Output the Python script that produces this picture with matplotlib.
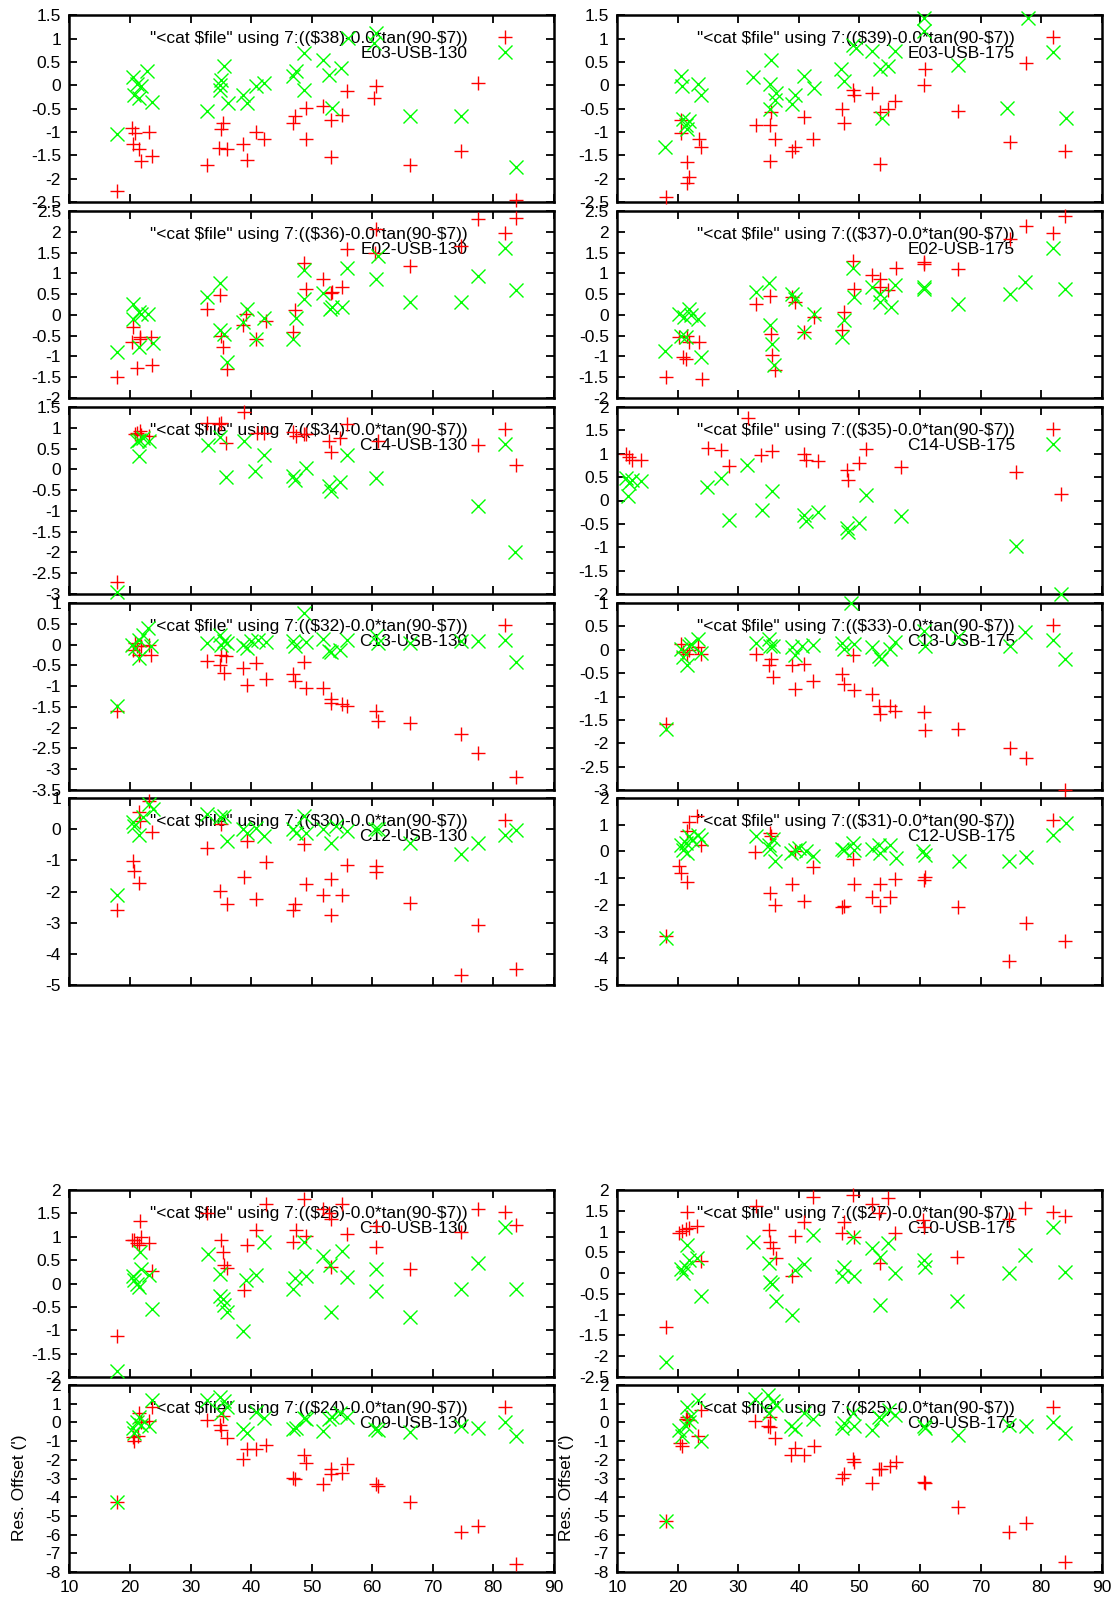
import matplotlib
matplotlib.use('Agg')
import matplotlib.pyplot as plt
from matplotlib.ticker import FuncFormatter
import numpy as np

plt.rcParams['font.family'] = ['Liberation Sans', 'DejaVu Sans']
plt.rcParams['axes.unicode_minus'] = False
plt.rcParams['text.parse_math'] = False

# ---------------- data: (elevation, residual offset) ----------------
E03_130_red = [(17.9,-2.26),(20.3,-0.91),(20.9,-1.02),(20.5,-1.26),(21.5,-1.36),(21.8,-1.63),(23.2,-0.99),(23.7,-1.52),(32.8,-1.70),(35.0,-0.93),(35.4,-0.81),(34.7,-1.34),(36.0,-1.36),(38.7,-1.26),(39.3,-1.61),(40.8,-1.0),(42.2,-1.15),(46.9,-0.81),(47.2,-0.66),(49.0,-0.49),(49.0,-1.15),(51.9,-0.45),(53.2,-0.74),(53.2,-1.54),(55.0,-0.63),(55.9,-0.13),(60.6,-0.01),(60.3,-0.27),(66.2,-1.70),(74.7,-1.41),(77.5,0.05),(83.8,-2.45)]
E03_130_grn = [(17.9,-1.04),(20.5,0.17),(21.2,0.03),(21.8,-0.02),(20.6,-0.2),(21.5,-0.27),(22.8,0.31),(23.7,-0.36),(32.8,-0.56),(34.8,0.01),(35.0,0.12),(35.6,0.41),(34.8,-0.09),(36.2,-0.38),(38.7,-0.2),(39.3,-0.38),(40.8,-0.02),(42.2,0.05),(46.9,0.19),(47.4,0.3),(48.8,0.69),(48.8,-0.09),(51.9,0.55),(52.9,0.23),(53.4,-0.49),(54.8,0.37),(56.0,1.01),(60.6,1.12),(60.3,0.9),(66.2,-0.66),(74.7,-0.66),(83.8,-1.74)]
E03_175_red = [(18.1,-2.4),(20.5,-0.74),(20.6,-1.02),(21.5,-1.65),(21.8,-1.97),(21.6,-2.09),(23.5,-1.16),(23.8,-1.33),(32.9,-0.84),(35.2,-0.84),(35.4,-0.57),(35.2,-1.63),(36.1,-1.15),(38.8,-1.4),(39.4,-1.33),(40.9,-0.68),(42.4,-1.15),(47.1,-0.5),(47.5,-0.81),(49.0,-0.11),(49.1,-0.21),(52.1,-0.16),(53.4,-0.57),(53.4,-1.69),(54.8,-0.5),(55.9,-0.34),(60.6,0.0),(60.8,0.36),(66.2,-0.56),(74.8,-1.22),(77.5,0.48),(84.0,-1.4)]
E03_175_grn = [(17.9,-1.33),(20.5,0.19),(20.7,-0.02),(20.9,-0.72),(21.3,-0.84),(21.6,-0.93),(21.9,-0.77),(23.4,0.03),(23.8,-0.2),(32.4,0.17),(35.4,0.55),(35.3,0.03),(35.2,-0.5),(36.1,-0.31),(36.2,-0.16),(38.8,-0.41),(39.4,-0.2),(40.9,0.19),(42.5,-0.06),(46.9,0.34),(47.4,0.09),(48.9,0.87),(49.4,0.8),(52.1,0.73),(53.4,0.34),(53.8,-0.7),(54.8,0.41),(55.9,0.73),(60.6,1.44),(60.6,1.16),(66.2,0.44),(74.4,-0.49),(77.8,1.44),(84.1,-0.7)]
E02_130_red = [(17.9,-1.5),(20.5,-0.28),(20.3,-0.66),(21.2,-1.29),(21.6,-0.58),(21.7,-0.54),(23.5,-0.54),(23.7,-1.2),(32.8,0.14),(34.9,0.48),(35.0,-0.52),(35.4,-0.77),(36.0,-1.3),(38.7,-0.25),(39.1,0.02),(40.8,-0.57),(42.4,-0.14),(46.9,-0.41),(47.2,0.11),(48.8,1.24),(49.0,0.62),(51.9,0.86),(53.2,0.52),(53.4,0.55),(55.0,0.66),(55.8,1.59),(60.6,2.06),(60.4,1.5),(66.2,1.18),(74.7,1.66),(77.5,2.3),(83.8,2.34)]
E02_130_grn = [(17.9,-0.9),(20.5,0.26),(20.5,-0.1),(21.5,0.06),(21.9,0.02),(23.0,0.02),(21.5,-0.78),(23.8,-0.68),(32.8,0.42),(34.8,0.76),(34.8,-0.36),(35.6,-0.46),(36.0,-1.14),(38.7,-0.17),(39.3,0.14),(40.8,-0.58),(42.2,-0.08),(46.9,-0.58),(47.4,-0.08),(48.8,1.08),(48.8,0.39),(51.9,0.52),(53.1,0.15),(53.4,0.2),(55.0,0.2),(55.9,1.14),(60.6,0.86),(60.9,1.42),(66.2,0.31),(74.7,0.31),(77.5,0.94),(83.8,0.6)]
E02_175_red = [(18.1,-1.5),(20.3,-0.54),(20.9,-1.02),(21.3,-1.05),(21.5,-0.5),(21.9,-0.66),(23.5,-0.66),(24.0,-1.54),(32.9,0.26),(35.2,0.46),(35.4,-0.46),(35.6,-0.97),(36.1,-1.32),(38.8,0.44),(39.4,0.3),(40.9,-0.42),(42.5,-0.06),(47.1,-0.36),(47.5,0.07),(49.0,1.3),(49.1,0.63),(52.1,0.95),(53.4,0.86),(53.4,0.66),(54.8,0.6),(56.0,1.14),(60.6,1.27),(60.6,1.22),(66.2,1.11),(74.8,1.83),(77.5,2.14),(84.0,2.39)]
E02_175_grn = [(17.9,-0.86),(20.3,0.02),(21.1,-0.06),(21.8,0.14),(22.2,-0.01),(23.4,-0.09),(20.6,-0.5),(21.3,-0.54),(23.8,-1.02),(32.9,0.55),(35.0,0.76),(35.2,-0.25),(35.6,-0.7),(35.9,-1.21),(38.8,0.5),(39.3,0.39),(40.9,-0.42),(42.5,0.02),(47.1,-0.54),(47.5,-0.12),(49.0,1.14),(49.1,0.44),(52.1,0.66),(53.4,0.5),(53.4,0.3),(55.2,0.18),(55.8,0.71),(60.6,0.66),(60.7,0.62),(66.2,0.26),(74.8,0.5),(77.4,0.78),(84.0,0.62)]
C14_130_red = [(17.9,-2.7),(20.9,0.85),(21.2,0.88),(21.6,0.93),(21.9,0.82),(23.1,0.8),(32.8,1.12),(34.7,1.08),(35.0,1.12),(35.9,0.63),(38.8,1.38),(40.9,0.88),(42.2,0.88),(46.9,0.9),(47.4,0.8),(48.8,0.84),(49.1,0.85),(52.9,0.67),(53.2,0.42),(54.7,0.76),(55.9,1.08),(60.9,0.67),(77.5,0.59),(83.8,0.11)]
C14_130_grn = [(17.9,-2.96),(21.1,0.67),(21.5,0.71),(21.5,0.31),(22.1,0.76),(23.1,0.67),(32.9,0.59),(34.8,0.77),(35.8,-0.18),(38.8,0.69),(40.6,-0.03),(42.1,0.34),(46.9,-0.17),(47.2,-0.25),(49.1,0.03),(52.9,-0.41),(53.2,-0.51),(54.7,-0.3),(55.8,0.34),(60.6,-0.22),(77.5,-0.89),(83.5,-1.99)]
C14_175_red = [(11.5,0.99),(11.9,0.94),(12.4,0.87),(14.0,0.87),(25.0,1.12),(27.1,1.09),(28.5,0.73),(31.6,1.77),(33.8,0.98),(35.6,1.05),(40.9,0.99),(41.2,0.87),(43.2,0.85),(47.9,0.66),(48.1,0.44),(49.9,0.8),(51.1,1.11),(56.8,0.71),(75.8,0.61),(83.2,0.14)]
C14_175_grn = [(11.5,0.48),(11.9,0.37),(12.4,0.44),(14.0,0.41),(11.8,0.09),(24.8,0.28),(27.2,0.49),(28.5,-0.42),(31.5,0.75),(34.0,-0.2),(35.6,0.21),(40.9,-0.31),(41.2,-0.44),(43.1,-0.24),(47.9,-0.59),(48.1,-0.67),(50.0,-0.49),(51.1,0.12),(56.8,-0.34),(75.8,-0.97),(83.2,-1.99)]
C13_130_red = [(17.9,-1.6),(20.5,-0.12),(21.2,-0.04),(21.5,-0.24),(21.9,-0.04),(23.2,-0.02),(23.5,-0.24),(20.9,0.04),(32.8,-0.4),(34.9,-0.48),(35.0,-0.24),(35.9,-0.28),(35.6,-0.68),(38.7,-0.56),(39.3,-0.98),(40.8,-0.44),(42.4,-0.84),(46.9,-0.72),(47.2,-0.88),(48.8,-0.42),(49.0,-1.04),(51.9,-1.04),(53.2,-1.32),(53.2,-1.41),(55.0,-1.44),(55.9,-1.48),(60.6,-1.6),(60.9,-1.84),(66.2,-1.89),(74.7,-2.15),(77.5,-2.62),(83.8,-3.19)]
C13_130_grn = [(17.9,-1.48),(20.3,0.0),(20.9,-0.08),(21.5,0.12),(21.5,-0.32),(22.1,0.24),(22.9,0.4),(23.5,-0.04),(32.8,0.04),(34.8,0.22),(35.0,0.0),(35.6,0.08),(36.0,0.04),(38.7,0.0),(39.4,-0.08),(40.0,0.08),(41.2,0.12),(42.5,0.06),(46.9,0.08),(47.2,-0.04),(48.8,0.76),(49.1,0.06),(51.9,0.14),(52.9,-0.16),(53.2,-0.18),(54.7,-0.12),(55.9,0.12),(60.6,0.2),(60.9,0.04),(66.2,0.04),(74.7,0.08),(77.5,0.08),(83.8,-0.42)]
C13_175_red = [(18.1,-1.58),(20.6,0.13),(20.9,-0.05),(21.5,-0.09),(21.8,-0.01),(23.4,0.06),(23.8,-0.09),(32.9,-0.1),(35.0,-0.33),(35.4,-0.19),(35.8,-0.58),(38.8,-0.33),(39.4,-0.85),(40.9,-0.31),(42.4,-0.67),(47.1,-0.51),(47.5,-0.73),(48.9,-0.12),(49.1,-0.87),(52.1,-0.95),(53.2,-1.21),(53.4,-1.38),(55.0,-1.21),(55.9,-1.31),(60.6,-1.33),(60.8,-1.71),(66.2,-1.69),(74.8,-2.11),(77.5,-2.31),(84.0,-3.0)]
C13_175_grn = [(18.1,-1.69),(20.6,0.02),(20.9,-0.16),(21.5,-0.33),(21.8,0.09),(22.2,0.13),(23.4,0.23),(23.8,-0.07),(32.9,0.14),(35.0,0.23),(35.2,0.09),(35.8,0.09),(38.8,0.06),(39.4,-0.12),(40.6,0.09),(42.4,0.11),(47.1,0.14),(47.5,0.02),(48.6,1.0),(49.1,0.13),(52.1,0.06),(53.2,-0.14),(53.5,-0.19),(55.0,0.02),(55.9,0.16),(60.6,0.4),(60.9,0.09),(66.2,0.28),(74.8,0.09),(77.4,0.38),(84.0,-0.19)]
C12_130_red = [(17.9,-2.58),(20.5,-1.02),(20.7,-1.34),(21.5,-1.72),(21.5,0.54),(21.6,0.27),(23.2,0.91),(23.6,-0.09),(32.8,-0.62),(34.9,-1.98),(35.0,0.16),(36.0,-2.41),(38.8,-1.52),(39.3,-0.38),(40.8,-2.25),(42.4,-1.05),(46.9,-2.58),(47.2,-2.41),(48.8,-0.48),(49.0,-1.75),(51.9,-2.12),(53.2,-1.61),(53.2,-2.74),(55.0,-2.12),(55.9,-1.16),(60.6,-1.18),(60.6,-1.37),(66.2,-2.38),(74.7,-4.67),(77.5,-3.06),(83.8,-4.48)]
C12_130_grn = [(17.9,-2.12),(20.5,0.24),(20.7,0.11),(21.5,-0.19),(22.1,0.38),(23.2,0.8),(23.8,0.64),(32.8,0.48),(34.8,0.38),(35.6,0.43),(36.0,-0.38),(38.7,0.0),(39.3,-0.11),(40.8,0.05),(42.2,-0.21),(46.9,0.02),(47.4,-0.11),(48.8,0.43),(49.0,-0.11),(51.9,0.02),(53.2,-0.43),(54.1,0.09),(55.8,-0.05),(60.5,0.0),(60.9,0.02),(66.2,-0.45),(74.7,-0.8),(77.5,-0.45),(83.8,-0.02)]
C12_175_red = [(18.1,-3.16),(20.3,-0.54),(20.6,-0.81),(21.5,-1.16),(21.6,0.75),(21.9,1.12),(23.2,1.31),(23.8,0.25),(32.8,-0.04),(35.2,0.69),(35.4,0.56),(35.2,-1.54),(36.1,-2.0),(38.8,-1.21),(39.4,0.0),(40.9,-1.84),(42.4,-0.59),(47.1,-2.09),(47.5,-2.06),(48.9,-0.29),(49.1,-1.21),(52.1,-1.71),(53.4,-1.21),(53.4,-2.06),(55.0,-1.69),(55.9,-1.04),(60.6,-1.06),(60.9,-0.96),(66.2,-2.09),(74.7,-4.12),(77.5,-2.69),(84.0,-3.34)]
C12_175_grn = [(18.1,-3.25),(20.6,0.25),(20.9,0.06),(21.3,0.31),(21.6,-0.06),(21.9,0.59),(22.4,0.41),(23.4,0.62),(23.8,0.46),(32.9,0.56),(35.0,0.25),(35.3,0.09),(35.8,0.46),(36.1,-0.34),(38.7,-0.06),(39.4,0.04),(40.0,0.12),(41.2,0.0),(42.4,-0.16),(47.1,0.09),(47.5,0.04),(48.9,0.31),(49.1,0.06),(52.1,0.09),(53.2,0.25),(53.4,-0.06),(55.0,0.25),(56.0,-0.25),(60.5,0.0),(60.9,-0.12),(66.4,-0.34),(74.7,-0.34),(77.5,-0.21),(84.1,1.06)]
C10_130_red = [(17.9,-1.13),(20.3,0.93),(20.7,0.93),(21.1,0.86),(21.5,0.82),(21.6,1.34),(21.9,0.99),(23.2,0.87),(23.6,0.27),(32.8,1.5),(35.0,0.93),(35.3,0.68),(35.6,0.39),(36.0,0.34),(38.8,-0.14),(39.3,0.82),(40.8,1.14),(42.4,1.71),(46.9,0.89),(47.4,1.14),(48.8,1.8),(49.0,1.01),(51.9,1.59),(52.9,1.5),(53.2,1.37),(53.2,0.36),(55.0,1.71),(55.9,1.06),(60.6,1.23),(60.7,0.79),(66.2,0.3),(74.7,1.11),(77.5,1.59),(83.8,1.25)]
C10_130_grn = [(17.9,-1.87),(20.5,0.16),(20.7,0.07),(21.2,0.0),(21.5,-0.07),(21.6,0.68),(21.9,0.3),(23.1,0.18),(23.6,-0.54),(32.9,0.63),(34.8,0.2),(34.8,-0.27),(35.4,-0.34),(35.6,-0.46),(36.0,-0.61),(38.7,-1.01),(39.1,0.07),(40.8,0.18),(42.2,0.89),(46.9,-0.11),(47.2,0.11),(48.8,0.89),(49.0,0.16),(51.9,0.59),(53.1,0.39),(53.2,-0.61),(55.0,0.7),(55.9,0.14),(60.6,0.3),(60.7,-0.16),(66.2,-0.71),(74.7,-0.11),(77.5,0.44),(83.8,-0.11)]
C10_175_red = [(18.1,-1.3),(20.3,0.96),(20.7,1.02),(21.3,1.06),(21.6,1.46),(21.9,1.08),(23.2,1.14),(23.8,0.3),(32.9,1.62),(35.0,1.04),(35.3,0.76),(35.8,0.6),(36.2,0.36),(38.8,-0.06),(39.4,0.9),(40.9,1.24),(42.4,1.84),(47.1,0.96),(47.5,1.22),(48.9,1.88),(49.1,0.86),(52.1,1.66),(53.2,1.44),(53.4,0.24),(54.7,1.8),(55.8,0.96),(60.5,1.28),(60.6,1.12),(66.1,0.38),(74.7,1.3),(77.4,1.56),(83.9,1.38)]
C10_175_grn = [(18.1,-2.14),(20.5,0.1),(20.8,0.0),(21.3,0.14),(21.6,0.68),(21.9,0.32),(23.2,0.36),(23.8,-0.56),(32.4,0.76),(35.0,0.24),(35.2,-0.22),(35.6,-0.26),(36.2,-0.66),(38.8,-1.02),(39.4,0.08),(40.9,0.22),(42.4,0.92),(47.1,-0.06),(47.5,0.14),(48.9,0.88),(49.1,-0.06),(52.1,0.6),(53.4,0.38),(53.4,-0.76),(54.7,0.72),(55.9,0.0),(60.6,0.32),(60.9,0.14),(66.1,-0.68),(74.7,0.0),(77.4,0.44),(83.9,0.02)]
C09_130_red = [(17.9,-4.28),(20.5,-0.78),(20.6,-1.01),(21.3,-0.71),(21.5,0.5),(21.9,0.0),(23.2,0.05),(23.6,0.85),(32.8,0.11),(34.8,-0.12),(35.0,-0.42),(35.3,0.32),(36.0,-0.83),(38.7,-1.98),(39.3,-1.42),(40.8,-1.42),(42.4,-1.19),(46.9,-2.96),(47.2,-3.04),(48.7,-1.72),(49.0,-2.16),(51.9,-3.31),(53.2,-2.51),(53.2,-2.78),(55.0,-2.69),(55.9,-2.25),(60.6,-3.31),(60.9,-3.4),(66.2,-4.28),(74.7,-5.84),(77.5,-5.56),(83.8,-7.56)]
C09_130_grn = [(17.9,-4.28),(20.5,-0.3),(20.7,-0.57),(21.2,0.0),(21.5,0.28),(21.9,-0.12),(23.1,-0.18),(23.6,1.2),(32.8,1.2),(34.8,1.38),(35.0,0.5),(35.6,1.12),(36.0,0.85),(38.7,-0.35),(39.3,-0.57),(40.8,0.58),(42.2,0.23),(46.9,-0.35),(47.4,-0.3),(48.8,0.23),(49.1,0.18),(51.9,-0.48),(52.9,0.18),(53.4,0.28),(54.7,0.5),(55.8,0.28),(60.5,-0.35),(60.9,-0.42),(66.2,-0.53),(74.7,-0.18),(77.5,-0.3),(83.8,-0.74)]
C09_175_red = [(18.1,-5.26),(20.4,-1.1),(20.7,-1.24),(21.3,0.18),(21.6,0.28),(21.9,0.14),(23.4,-0.74),(23.8,0.67),(32.8,0.05),(34.9,-0.18),(35.2,-0.25),(35.3,0.28),(36.1,-0.83),(38.7,-1.77),(39.4,-1.36),(40.9,-1.72),(42.5,-1.24),(47.1,-2.96),(47.5,-2.78),(48.9,-1.98),(49.1,-2.12),(52.1,-3.22),(53.2,-2.51),(53.5,-2.51),(55.1,-2.34),(56.1,-2.12),(60.6,-3.19),(60.9,-3.26),(66.2,-4.55),(74.7,-5.84),(77.5,-5.38),(83.9,-7.47)]
C09_175_grn = [(18.1,-5.26),(20.3,-0.39),(20.7,-0.74),(21.3,-0.18),(21.6,0.85),(21.9,0.0),(22.2,0.32),(23.4,1.2),(23.8,-1.01),(32.8,1.24),(34.9,1.47),(35.1,0.5),(35.8,1.12),(36.2,0.94),(38.7,-0.18),(39.4,-0.35),(40.9,0.5),(42.4,0.18),(47.1,-0.3),(47.5,-0.04),(48.9,0.5),(49.1,-0.18),(52.1,-0.39),(53.2,0.28),(53.5,0.18),(54.9,0.67),(55.9,0.41),(60.6,-0.18),(60.9,-0.3),(66.2,-0.65),(74.7,-0.12),(77.5,-0.18),(83.9,-0.57)]

# panel titles, data column numbers, y ranges
NAMES = ['E03-USB-130', 'E03-USB-175', 'E02-USB-130', 'E02-USB-175',
         'C14-USB-130', 'C14-USB-175', 'C13-USB-130', 'C13-USB-175',
         'C12-USB-130', 'C12-USB-175', 'C10-USB-130', 'C10-USB-175',
         'C09-USB-130', 'C09-USB-175']
COLS = [38, 39, 36, 37, 34, 35, 32, 33, 30, 31, 26, 27, 24, 25]
YRANGES = [(-2.5, 1.5, 0.5), (-2.5, 1.5, 0.5), (-2, 2.5, 0.5), (-2, 2.5, 0.5),
           (-3, 1.5, 0.5), (-2, 2, 0.5), (-3.5, 1, 0.5), (-3, 1, 0.5),
           (-5, 1, 1), (-5, 2, 1), (-2, 2, 0.5), (-2.5, 2, 0.5),
           (-8, 2, 1), (-8, 2, 1)]
REDS = [E03_130_red, E03_175_red, E02_130_red, E02_175_red, C14_130_red, C14_175_red,
        C13_130_red, C13_175_red, C12_130_red, C12_175_red, C10_130_red, C10_175_red,
        C09_130_red, C09_175_red]
GRNS = [E03_130_grn, E03_175_grn, E02_130_grn, E02_175_grn, C14_130_grn, C14_175_grn,
        C13_130_grn, C13_175_grn, C12_130_grn, C12_175_grn, C10_130_grn, C10_175_grn,
        C09_130_grn, C09_175_grn]
XTICKS = list(range(10, 91, 10))

# ---------------- layout (pixels) ----------------
W, H = 1118, 1600
COLX = [(69.4, 553.9), (617.1, 1101.7)]
ROWY = [(15.3, 202), (211, 398), (407, 594), (603, 790), (798, 985), (1190, 1377), (1385, 1572)]
FS = 12.5

fig = plt.figure(figsize=(W / 100, H / 100), dpi=100)
fmt = FuncFormatter(lambda v, p: f'{round(v, 3) + 0:g}')

for i, name in enumerate(NAMES):
    row, col = divmod(i, 2)
    x0, x1 = COLX[col]
    y0, y1 = ROWY[row]
    ax = fig.add_axes([x0 / W, 1 - y1 / H, (x1 - x0) / W, (y1 - y0) / H])
    ymin, ymax, step = YRANGES[i]
    ax.set_xlim(10, 90)
    ax.set_ylim(ymin, ymax)
    ax.set_xticks(XTICKS)
    ax.set_yticks(np.round(np.arange(ymin, ymax + step / 2, step), 3))
    ax.yaxis.set_major_formatter(fmt)
    ax.xaxis.set_major_formatter(FuncFormatter(lambda v, p: f'{v:g}'))
    ax.tick_params(direction='in', length=6, width=1.3, top=True, right=True,
                   labelsize=FS, colors='black')
    ax.tick_params(axis='y', pad=6)
    ax.tick_params(axis='x', pad=6)
    if row != 6:
        ax.tick_params(labelbottom=False)
    for s in ax.spines.values():
        s.set_linewidth(1.8)

    rx, ry = map(np.array, zip(*REDS[i]))
    gx, gy = map(np.array, zip(*GRNS[i]))
    rm = (ry >= ymin) & (ry <= ymax)
    gm = (gy >= ymin) & (gy <= ymax)
    label_red = f'"<cat $file" using 7:((${COLS[i]})-0.0*tan(90-$7))'
    ax.plot(rx[rm], ry[rm], ls='none', marker='+', ms=10, mew=1.0, color='#ff0000',
            clip_on=False, zorder=4, label=label_red)
    ax.plot(gx[gm], gy[gm], ls='none', marker='x', ms=9.5, mew=1.0, color='#00ff00',
            clip_on=False, zorder=4, label=name)
    leg = ax.legend(loc='upper right', bbox_to_anchor=(0.935, 0.915), frameon=False,
                    markerfirst=False, borderpad=0, borderaxespad=0, handlelength=2.0,
                    handletextpad=1.18, labelspacing=0.0, fontsize=FS)
    leg.set_zorder(2)

    if row == 6:
        ax.set_ylabel("Res. Offset (')", fontsize=FS)
        ax.yaxis.set_label_coords(-0.088, 0.45)

fig.savefig('out.png', dpi=100)
